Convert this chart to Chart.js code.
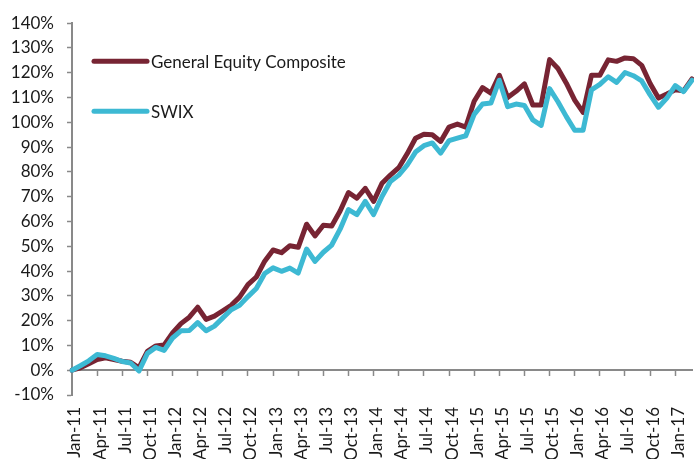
<!DOCTYPE html>
<html>
<head>
<meta charset="utf-8">
<script src="https://cdn.jsdelivr.net/npm/chart.js@4"></script>
<style>
html,body{margin:0;padding:0;background:#fff;}
#wrap{width:694px;height:459px;position:relative;}
</style>
</head>
<body>
<div id="wrap"><canvas id="c" width="694" height="459"></canvas></div>
<script>
// ---- data ----
const monthNames = ['Jan','Feb','Mar','Apr','May','Jun','Jul','Aug','Sep','Oct','Nov','Dec'];
const years = ['11','12','13','14','15','16','17'];
const categories = [];
years.forEach(y => monthNames.forEach((m, i) => {
  if (y === '17' && i > 2) return;
  categories.push(m + '-' + y);
}));

const seriesNames = ['General Equity Composite', 'SWIX'];

const generalEquity = [
  0, 1.0, 2.6, 4.3, 5.0, 4.3, 3.6, 3.2, 1.0, 7.6, 9.8, 10.2,
  15.0, 18.8, 21.4, 25.4, 20.5, 21.8, 24.0, 26.2, 29.5, 34.5, 37.6, 44.0,
  48.5, 47.4, 50.2, 49.6, 58.9, 54.2, 58.5, 58.2, 64.2, 71.7, 69.4, 73.4,
  68.1, 75.4, 78.7, 81.7, 87.3, 93.6, 95.2, 95.0, 92.3, 98.1, 99.3, 98.1,
  108.5, 114.0, 111.8, 119.0, 110.0, 112.5, 115.5, 107.0, 107.0, 125.3, 121.7, 115.8,
  109.0, 104.0, 119.0, 119.0, 125.2, 124.6, 126.0, 125.7, 123.0, 115.7, 109.8, 111.4,
  113.1, 112.7, 117.5
];

const swix = [
  0, 1.8, 3.8, 6.3, 5.8, 4.8, 3.5, 2.9, -0.3, 6.8, 9.2, 8.0,
  13.0, 15.9, 16.0, 19.2, 15.9, 17.8, 21.1, 24.4, 26.2, 29.7, 33.0, 39.0,
  41.3, 39.9, 41.2, 39.2, 48.9, 43.9, 47.6, 50.5, 56.9, 64.8, 62.8, 68.1,
  62.8, 70.1, 76.1, 78.7, 82.7, 88.0, 90.6, 91.7, 87.6, 92.6, 93.6, 94.6,
  103.2, 107.4, 107.8, 117.0, 106.3, 107.4, 106.8, 101.0, 98.8, 113.6, 108.3, 102.3,
  96.8, 96.8, 113.1, 115.3, 118.4, 116.1, 120.1, 118.8, 116.7, 111.1, 106.1, 109.8,
  114.8, 112.4, 117.0
];

const yMin = -10, yMax = 140, yStep = 10;
const labelEvery = 3;

// ---- styles ----
const colors = ['#772433', '#3DB9D3'];
const axisGray = '#898989';
const textColor = '#1a1a1a';
const fontFamily = 'Lato, "Liberation Sans", sans-serif';

const insideLegend = {
  id: 'insideLegend',
  afterDraw(chart) {
    const ctx = chart.ctx;
    const a = chart.chartArea;
    const rows = [38, 88];
    ctx.save();
    chart.data.datasets.forEach((ds, i) => {
      const y = a.top + rows[i];
      const x0 = a.left + 22, x1 = a.left + 75;
      ctx.strokeStyle = ds.borderColor;
      ctx.lineWidth = 5;
      ctx.lineCap = 'round';
      ctx.beginPath();
      ctx.moveTo(x0, y);
      ctx.lineTo(x1, y);
      ctx.stroke();
      ctx.fillStyle = textColor;
      ctx.font = '17px ' + fontFamily;
      ctx.textAlign = 'left';
      ctx.textBaseline = 'middle';
      ctx.fillText(ds.label, x1 + 4, y + 1);
    });
    ctx.restore();
  }
};

new Chart(document.getElementById('c'), {
  type: 'line',
  data: {
    labels: categories,
    datasets: [
      {
        label: seriesNames[0], data: generalEquity, borderColor: colors[0], backgroundColor: colors[0],
        borderWidth: 5, pointRadius: 0, tension: 0, borderJoinStyle: 'round', borderCapStyle: 'round',
        order: 1, xAxisID: 'x', yAxisID: 'y'
      },
      {
        label: seriesNames[1], data: swix, borderColor: colors[1], backgroundColor: colors[1],
        borderWidth: 5, pointRadius: 0, tension: 0, borderJoinStyle: 'round', borderCapStyle: 'round',
        order: 0, xAxisID: 'x', yAxisID: 'y'
      }
    ]
  },
  options: {
    responsive: false,
    animation: false,
    devicePixelRatio: 1,
    layout: { padding: { top: 17, right: 2, left: 0, bottom: 0 } },
    plugins: { legend: { display: false }, tooltip: { enabled: false } },
    scales: {
      x: {
        type: 'category',
        position: 'bottom',
        offset: false,
        border: { display: false },
        grid: { display: false, drawTicks: false },
        ticks: {
          autoSkip: false, maxRotation: 90, minRotation: 90, padding: 12, labelOffset: 3,
          color: textColor, font: { family: fontFamily, size: 17 },
          callback: function (v, i) { return i % labelEvery === 0 ? this.getLabelForValue(v) : ''; }
        },
        afterFit: s => { s.height = 64; s.paddingLeft = 0; s.paddingRight = 0; }
      },
      xZero: {
        type: 'category',
        position: { y: 0 },
        offset: false,
        border: { display: true, color: axisGray, width: 2 },
        grid: {
          display: true, drawOnChartArea: false, drawTicks: true, tickLength: 5,
          color: ctx => (ctx.index % labelEvery === 0 && ctx.index > 0) ? axisGray : 'rgba(0,0,0,0)',
          tickColor: ctx => (ctx.index % labelEvery === 0 && ctx.index > 0) ? axisGray : 'rgba(0,0,0,0)',
          tickWidth: 1.5
        },
        ticks: { display: false, autoSkip: false }
      },
      y: {
        type: 'linear',
        position: 'left',
        min: yMin, max: yMax,
        border: { display: true, color: axisGray, width: 2 },
        grid: { display: true, drawOnChartArea: false, drawTicks: true, tickLength: 5, tickColor: axisGray, tickWidth: 1.5 },
        ticks: {
          stepSize: yStep, padding: 13, color: textColor, font: { family: fontFamily, size: 17 },
          callback: v => v + '%'
        },
        afterFit: s => { s.width = 72; }
      }
    }
  },
  plugins: [insideLegend]
});
</script>
</body>
</html>
